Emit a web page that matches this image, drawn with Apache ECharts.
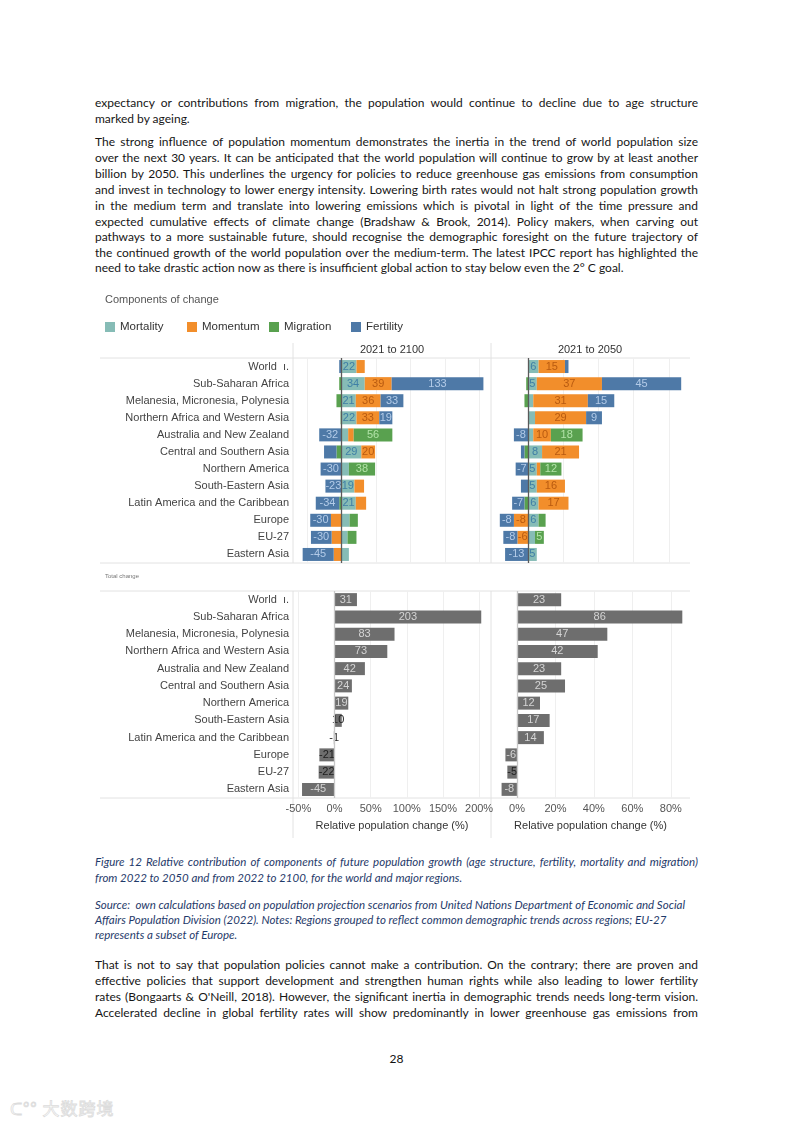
<!DOCTYPE html>
<html><head><meta charset="utf-8">
<script src="https://cdn.jsdelivr.net/npm/echarts@6/dist/echarts.min.js"></script>
<style>
body{margin:0;background:#fff;}
#page{position:relative;width:793px;height:1122px;overflow:hidden;background:#fff;}
.ln{position:absolute;left:95px;white-space:nowrap;font-family:Lato,"Noto Sans",sans-serif;font-size:12px;color:#161616;line-height:16px;}
.cap{font-style:italic;color:#1f3a6a;font-size:11.5px;}
#chart{position:absolute;left:0;top:285px;width:793px;height:560px;}
#pn{position:absolute;left:0;width:793px;text-align:center;top:1051px;font-family:Lato,sans-serif;font-size:12px;color:#111;}
#wm{position:absolute;left:10px;top:1095px;font-family:"Noto Sans CJK SC",sans-serif;font-size:17px;color:#fff;-webkit-text-stroke:0.8px #dcdcdc;letter-spacing:1px;}
</style></head>
<body><div id="page">
<div class="ln j" style="top:95px">expectancy or contributions from migration, the population would continue to decline due to age structure</div>
<div class="ln" style="top:111px">marked by ageing.</div>
<div class="ln j" style="top:134px">The strong influence of population momentum demonstrates the inertia in the trend of world population size</div>
<div class="ln j" style="top:150px">over the next 30 years. It can be anticipated that the world population will continue to grow by at least another</div>
<div class="ln j" style="top:166px">billion by 2050. This underlines the urgency for policies to reduce greenhouse gas emissions from consumption</div>
<div class="ln j" style="top:182px">and invest in technology to lower energy intensity. Lowering birth rates would not halt strong population growth</div>
<div class="ln j" style="top:198px">in the medium term and translate into lowering emissions which is pivotal in light of the time pressure and</div>
<div class="ln j" style="top:213.5px">expected cumulative effects of climate change (Bradshaw &amp; Brook, 2014). Policy makers, when carving out</div>
<div class="ln j" style="top:229px">pathways to a more sustainable future, should recognise the demographic foresight on the future trajectory of</div>
<div class="ln j" style="top:245px">the continued growth of the world population over the medium-term. The latest IPCC report has highlighted the</div>
<div class="ln" style="top:260px">need to take drastic action now as there is insufficient global action to stay below even the 2° C goal.</div>

<div id="chart"></div>

<div class="ln cap j" style="top:854px">Figure 12 Relative contribution of components of future population growth (age structure, fertility, mortality and migration)</div>
<div class="ln cap" style="top:870px">from 2022 to 2050 and from 2022 to 2100, for the world and major regions.</div>
<div class="ln cap" style="top:897px">Source:&nbsp; own calculations based on population projection scenarios from United Nations Department of Economic and Social</div>
<div class="ln cap" style="top:912px">Affairs Population Division (2022). Notes: Regions grouped to reflect common demographic trends across regions; EU-27</div>
<div class="ln cap" style="top:927px">represents a subset of Europe.</div>

<div class="ln j" style="top:957px">That is not to say that population policies cannot make a contribution. On the contrary; there are proven and</div>
<div class="ln j" style="top:973px">effective policies that support development and strengthen human rights while also leading to lower fertility</div>
<div class="ln j" style="top:989px">rates (Bongaarts &amp; O'Neill, 2018). However, the significant inertia in demographic trends needs long-term vision.</div>
<div class="ln j" style="top:1005px">Accelerated decline in global fertility rates will show predominantly in lower greenhouse gas emissions from</div>
<div id="pn">28</div>
<div id="wm">ᑕ°° 大数跨境</div>
</div>
<script>
// ---- text fitting (justify lines to the column width) ----
function fitLines(){
  const W = 603;
  document.querySelectorAll('.ln').forEach(el=>{
    el.style.letterSpacing='0px'; el.style.wordSpacing='0px';
    let w = el.getBoundingClientRect().width;
    const txt = el.textContent;
    if (w > W) {
      el.style.letterSpacing = ((W - w) / txt.length) + 'px';
      w = el.getBoundingClientRect().width;
    }
    if (el.classList.contains('j')) {
      const sp = (txt.match(/ /g) || []).length;
      if (sp) el.style.wordSpacing = ((W - w) / sp) + 'px';
    }
  });
}
fitLines();
if (document.fonts && document.fonts.ready) document.fonts.ready.then(fitLines);

// ---- data ----
const regions = ['World','Sub-Saharan Africa','Melanesia, Micronesia, Polynesia','Northern Africa and Western Asia','Australia and New Zealand','Central and Southern Asia','Northern America','South-Eastern Asia','Latin America and the Caribbean','Europe','EU-27','Eastern Asia'];
const components = ['Mortality','Momentum','Migration','Fertility'];
const periods = ['2021 to 2100','2021 to 2050'];

// components of change, 2021 to 2100 (%)
const mortality2100 = [22,34,21,22,10,29,11,19,21,12,9,11];
const momentum2100  = [12,39,36,33,8,20,0,14,15,-15,-14,-11];
const migration2100 = [0,-3,-7,-1,56,-7,38,0,-3,12,13,0];
const fertility2100 = [-3,133,33,19,-32,-18,-30,-23,-34,-30,-30,-45];
// components of change, 2021 to 2050 (%)
const mortality2050 = [6,5,3,4,3,8,5,5,6,6,4,5];
const momentum2050  = [15,37,31,29,10,21,2,16,17,-8,-6,0];
const migration2050 = [0,-1,-2,0,18,-2,12,0,-2,4,5,0];
const fertility2050 = [2,45,15,9,-8,-2,-7,-4,-7,-8,-8,-13];
// total change (%)
const total2100 = [31,203,83,73,42,24,19,10,-1,-21,-22,-45];
const total2050 = [23,86,47,42,23,25,12,17,14,-6,-5,-8];

const ticks2100 = [-50,0,50,100,150,200];
const ticks2050 = [0,20,40,60,80];

// ---- chart ----
const FONT = '"Liberation Sans", Arial, sans-serif';
const barColors = {Mortality:'#86BCB6', Momentum:'#F28E2B', Migration:'#59A14F', Fertility:'#4E79A7'};
const labelColors = {Mortality:'#3f7fa6', Momentum:'#b85a10', Migration:'#b2e3a8', Fertility:'#b3cbe8'};

const grids = [
  {left:293, width:198, top:73, height:205},
  {left:491, width:199, top:73, height:205},
  {left:293, width:198, top:306, height:207},
  {left:491, width:199, top:306, height:207}
];
const xr = [[-70,217],[-21,92],[-57.5,216.5],[-13.5,90]];
const xt = [ticks2100, ticks2050, ticks2100, ticks2050];

const xAxes = grids.map((g,i)=>({
  type:'value', gridIndex:i, min:xr[i][0], max:xr[i][1],
  axisLine:{show:false}, splitLine:{show:false},
  axisTick:{show:true, inside:true, length:g.height, customValues:xt[i].filter(v=>v!==0), lineStyle:{color:'#efefef', width:1}},
  axisLabel:{show:i>=2, customValues:xt[i], formatter:v=>v+'%', color:'#555', fontSize:11, fontFamily:FONT, margin:5},
  name: i>=2 ? 'Relative population change (%)' : '', nameLocation:'middle', nameGap:22,
  nameTextStyle:{color:'#333', fontSize:11, fontFamily:FONT}
}));
const yAxes = grids.map((g,i)=>({
  type:'category', gridIndex:i, data:regions, inverse:true,
  axisLine:{show:false}, axisTick:{show:false}, splitLine:{show:false},
  axisLabel:{show:i%2===0, color:'#444', fontSize:11, fontFamily:FONT, margin:4,
    formatter:v=> v==='World' ? v+'  ı.' : v}
}));

function zeroLine(color){
  return {silent:true, symbol:['none','none'], animation:false, z:5,
    label:{show:false}, lineStyle:{color:color, width:1.3, type:'solid'}, data:[{xAxis:0}]};
}

function compSeries(gi, arrays, th){
  return components.map((c,k)=>({
    name:c, type:'bar', stack:'s'+gi, xAxisIndex:gi, yAxisIndex:gi,
    barWidth:13, data:arrays[k],
    itemStyle:{color:barColors[c]},
    label:{show:true, position:'inside', fontSize:11, fontFamily:FONT, color:labelColors[c],
      formatter:p=> Math.abs(p.value)>=th ? String(p.value) : ''},
    markLine: k===3 ? zeroLine('#5a5a5a') : undefined
  }));
}
function totalSeries(gi, arr, dark){
  return {
    name:'Total change', type:'bar', xAxisIndex:gi, yAxisIndex:gi, barWidth:13,
    itemStyle:{color:'#6e6e6e'},
    data:arr.map(v=>({value:v, label:{color: dark(v) ? '#1e1e1e' : '#d4d4d4'}})),
    label:{show:true, position:'inside', fontSize:11, fontFamily:FONT},
    markLine: zeroLine('#c8c8c8')
  };
}

const series = [].concat(
  compSeries(0,[mortality2100,momentum2100,migration2100,fertility2100],19),
  compSeries(1,[mortality2050,momentum2050,migration2050,fertility2050],5),
  [totalSeries(2,total2100,v=>v<=10 && v>-30), totalSeries(3,total2050,v=>v>-5.5 && v<0)]
);

const L = '#e2e2e2';
const hline = (y)=>({type:'line', shape:{x1:100,y1:y,x2:690,y2:y}, style:{stroke:L, lineWidth:1}, silent:true});
const vline = (x,y1,y2)=>({type:'line', shape:{x1:x,y1:y1,x2:x,y2:y2}, style:{stroke:L, lineWidth:1}, silent:true});

const chart = echarts.init(document.getElementById('chart'), null, {renderer:'canvas'});
chart.setOption({
  animation:false,
  grid:grids,
  xAxis:xAxes, yAxis:yAxes,
  legend:components.map((c,i)=>({data:[c], left:100+82*i, top:31, itemWidth:10, itemHeight:10, icon:'rect',
    selectedMode:false, textStyle:{fontSize:11.5, color:'#333', fontFamily:FONT}})),
  graphic:[
    hline(73), hline(278), hline(306), hline(513),
    vline(293,58,278), vline(491,58,278), vline(293,306,553), vline(491,306,553),
    {type:'text', left:105, top:9, style:{text:'Components of change', fill:'#555', font:'11px '+FONT}},
    {type:'text', left:105, top:288, style:{text:'Total change', fill:'#777', font:'6px '+FONT}},
    {type:'text', x:392, y:65, style:{text:periods[0], fill:'#333', font:'11px '+FONT, align:'center', verticalAlign:'middle'}},
    {type:'text', x:590, y:65, style:{text:periods[1], fill:'#333', font:'11px '+FONT, align:'center', verticalAlign:'middle'}}
  ],
  series:series
});
</script>
</body></html>
